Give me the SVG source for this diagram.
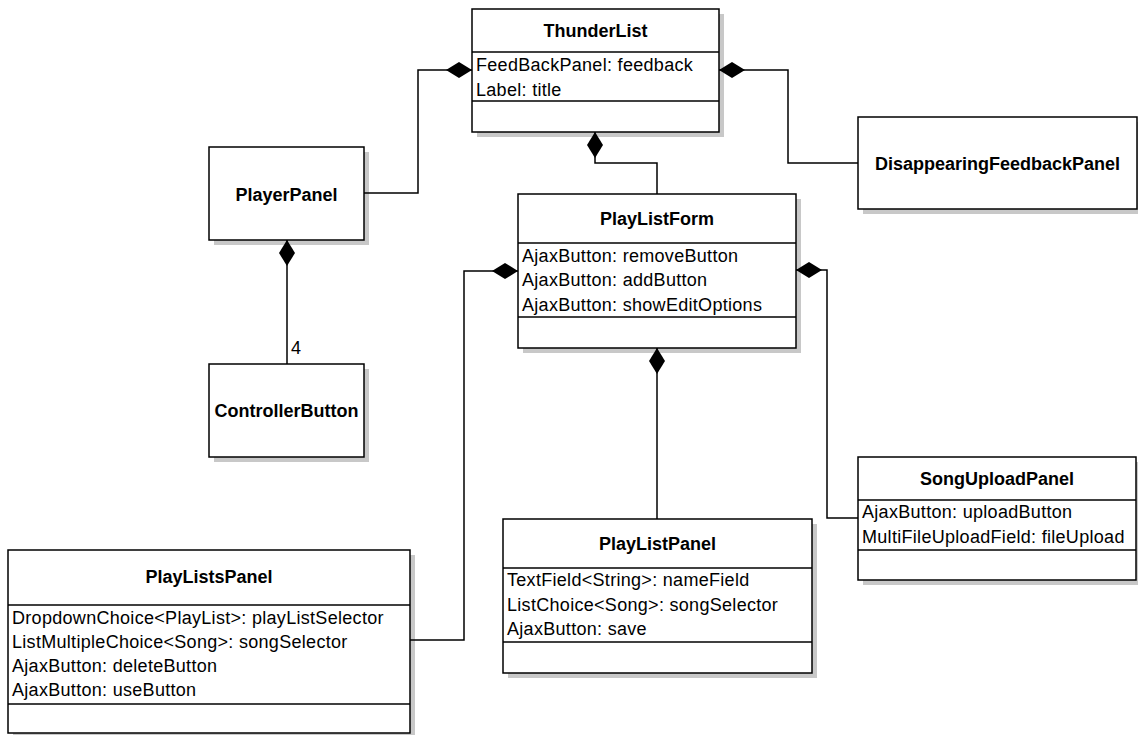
<svg xmlns="http://www.w3.org/2000/svg" width="1138" height="735" viewBox="0 0 1138 735">
<defs>
<style>
.box{fill:#fff;stroke:#000;stroke-width:1.5}
.sh{fill:#c8c8c8}
.div{stroke:#000;stroke-width:1.5}
.t{font-family:"Liberation Sans",Arial,sans-serif;font-size:18px;fill:#000;letter-spacing:0.3px}
.b{font-weight:bold;text-anchor:middle;letter-spacing:0}
.c{fill:none;stroke:#000;stroke-width:1.5}
</style>
<marker id="dia" viewBox="0 0 26 16" refX="0" refY="8" markerWidth="26" markerHeight="16" markerUnits="userSpaceOnUse" orient="auto">
<path d="M0,8 L13,0 L26,8 L13,16 Z" fill="#000"/>
</marker>
</defs>
<rect width="1138" height="735" fill="#fff"/>

<g id="ThunderList">
<rect class="sh" x="477" y="14" width="247" height="123"/>
<rect class="box" x="472" y="9" width="247" height="123"/>
<line class="div" x1="472" y1="52" x2="719" y2="52"/>
<line class="div" x1="472" y1="101" x2="719" y2="101"/>
<text class="t b" x="595.5" y="37">ThunderList</text>
<text class="t" x="476" y="71">FeedBackPanel: feedback</text>
<text class="t" x="476" y="96">Label: title</text>
</g>

<g id="PlayerPanel">
<rect class="sh" x="214" y="152" width="155" height="93"/>
<rect class="box" x="209" y="147" width="155" height="93"/>
<text class="t b" x="286.5" y="201">PlayerPanel</text>
</g>

<g id="ControllerButton">
<rect class="sh" x="214" y="369" width="155" height="93"/>
<rect class="box" x="209" y="364" width="155" height="93"/>
<text class="t b" x="286.5" y="417">ControllerButton</text>
</g>

<g id="DisappearingFeedbackPanel">
<rect class="sh" x="863" y="122" width="279" height="92"/>
<rect class="box" x="858" y="117" width="279" height="92"/>
<text class="t b" x="997.5" y="170">DisappearingFeedbackPanel</text>
</g>

<g id="PlayListForm">
<rect class="sh" x="523" y="199" width="278" height="154"/>
<rect class="box" x="518" y="194" width="278" height="154"/>
<line class="div" x1="518" y1="243" x2="796" y2="243"/>
<line class="div" x1="518" y1="317" x2="796" y2="317"/>
<text class="t b" x="657" y="225">PlayListForm</text>
<text class="t" x="522" y="262">AjaxButton: removeButton</text>
<text class="t" x="522" y="286">AjaxButton: addButton</text>
<text class="t" x="522" y="311">AjaxButton: showEditOptions</text>
</g>

<g id="SongUploadPanel">
<rect class="sh" x="863" y="462" width="278" height="123"/>
<rect class="box" x="858" y="457" width="278" height="123"/>
<line class="div" x1="858" y1="500" x2="1136" y2="500"/>
<line class="div" x1="858" y1="550" x2="1136" y2="550"/>
<text class="t b" x="997" y="485">SongUploadPanel</text>
<text class="t" x="862" y="518">AjaxButton: uploadButton</text>
<text class="t" x="862" y="543">MultiFileUploadField: fileUpload</text>
</g>

<g id="PlayListPanel">
<rect class="sh" x="508" y="524" width="309" height="154"/>
<rect class="box" x="503" y="519" width="309" height="154"/>
<line class="div" x1="503" y1="568" x2="812" y2="568"/>
<line class="div" x1="503" y1="642" x2="812" y2="642"/>
<text class="t b" x="657.5" y="550">PlayListPanel</text>
<text class="t" x="507" y="586">TextField&lt;String&gt;: nameField</text>
<text class="t" x="507" y="611">ListChoice&lt;Song&gt;: songSelector</text>
<text class="t" x="507" y="635">AjaxButton: save</text>
</g>

<g id="PlayListsPanel">
<rect class="sh" x="13" y="555" width="402" height="183"/>
<rect class="box" x="8" y="550" width="402" height="183"/>
<line class="div" x1="8" y1="605" x2="410" y2="605"/>
<line class="div" x1="8" y1="704" x2="410" y2="704"/>
<text class="t b" x="209" y="583">PlayListsPanel</text>
<text class="t" x="12" y="624">DropdownChoice&lt;PlayList&gt;: playListSelector</text>
<text class="t" x="12" y="648">ListMultipleChoice&lt;Song&gt;: songSelector</text>
<text class="t" x="12" y="672">AjaxButton: deleteButton</text>
<text class="t" x="12" y="696">AjaxButton: useButton</text>
</g>

<g id="connectors">
<path class="c" marker-start="url(#dia)" d="M472,70 H418 V193 H364"/>
<path class="c" marker-start="url(#dia)" d="M719,70 H788 V163 H858"/>
<path class="c" marker-start="url(#dia)" d="M595,132 V163 H657 V194"/>
<path class="c" marker-start="url(#dia)" d="M287,240 V364"/>
<text class="t" x="291" y="354">4</text>
<path class="c" marker-start="url(#dia)" d="M518,271 H464 V640 H410"/>
<path class="c" marker-start="url(#dia)" d="M796,270 H827 V518 H858"/>
<path class="c" marker-start="url(#dia)" d="M657,348 V519"/>
</g>
</svg>
